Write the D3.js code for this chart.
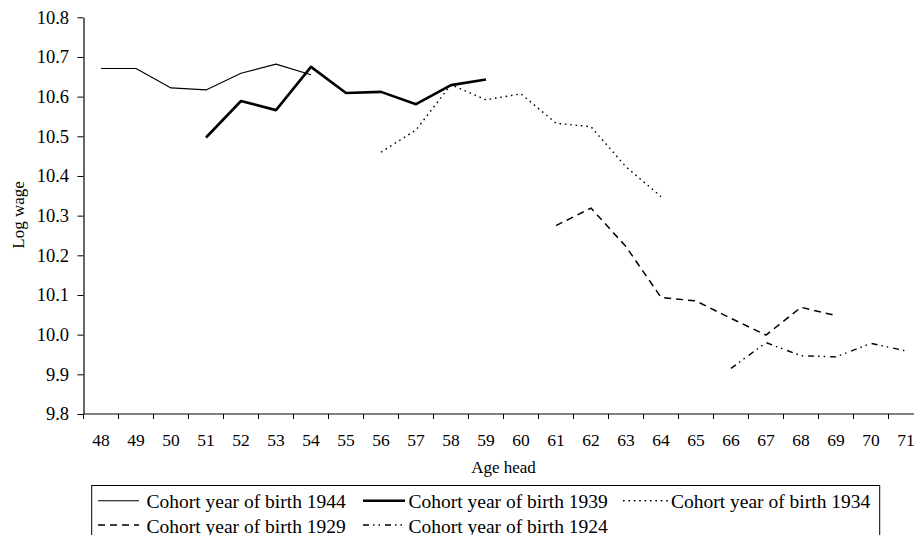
<!DOCTYPE html>
<html>
<head>
<meta charset="utf-8">
<script src="https://cdn.jsdelivr.net/npm/d3@7"></script>
<style>
  html, body { margin: 0; padding: 0; background: #fff; overflow: hidden; }
  svg { display: block; }
</style>
</head>
<body>
<div id="chart"></div>
<script>
// Log wage by age of household head, one line per birth cohort.

const ages = [48, 49, 50, 51, 52, 53, 54, 55, 56, 57, 58, 59,
              60, 61, 62, 63, 64, 65, 66, 67, 68, 69, 70, 71];

const yTicks = [9.8, 9.9, 10.0, 10.1, 10.2, 10.3, 10.4, 10.5, 10.6, 10.7, 10.8];

// values aligned with ages, null where the cohort is not observed
const cohort1944 = [10.671, 10.671, 10.622, 10.617, 10.659, 10.682, 10.655,
                    null, null, null, null, null, null, null, null, null, null,
                    null, null, null, null, null, null, null];
const cohort1939 = [null, null, null, 10.497, 10.589, 10.566, 10.675, 10.609,
                    10.612, 10.581, 10.629, 10.643,
                    null, null, null, null, null, null, null, null, null, null, null, null];
const cohort1934 = [null, null, null, null, null, null, null, null,
                    10.460, 10.516, 10.630, 10.592, 10.607, 10.533, 10.524, 10.423, 10.348,
                    null, null, null, null, null, null, null];
const cohort1929 = [null, null, null, null, null, null, null, null, null, null, null, null, null,
                    10.275, 10.319, 10.222, 10.094, 10.085, 10.041, 9.999, 10.069, 10.048,
                    null, null];
const cohort1924 = [null, null, null, null, null, null, null, null, null, null, null, null,
                    null, null, null, null, null, null,
                    9.915, 9.980, 9.947, 9.944, 9.978, 9.959];

const seriesNames = ["Cohort year of birth 1944", "Cohort year of birth 1939",
                     "Cohort year of birth 1934", "Cohort year of birth 1929",
                     "Cohort year of birth 1924"];
const seriesValues = [cohort1944, cohort1939, cohort1934, cohort1929, cohort1924];

// line styles per series
const STYLES = [
  { width: 1.1, dash: null },
  { width: 2.6, dash: null },
  { width: 1.4, dash: "1.6,3.8" },
  { width: 1.5, dash: "7,5" },
  { width: 1.4, dash: "6,4,1.5,4,1.5,5" },
];

const FONT = "'Liberation Serif', 'Times New Roman', serif";
const W = 914, H = 535;
const plot = { left: 83.5, right: 923.5, top: 17.3, bottom: 414 };

const svg = d3.select("#chart").append("svg")
  .attr("width", W).attr("height", H)
  .attr("viewBox", `0 0 ${W} ${H}`);

const x = d3.scaleBand().domain(ages).range([plot.left, plot.right]).padding(0);
const y = d3.scaleLinear().domain([9.8, 10.8]).range([plot.bottom, plot.top]);

// Y axis
const yAxisG = svg.append("g")
  .attr("transform", `translate(${plot.left},0)`)
  .call(d3.axisLeft(y).tickValues(yTicks).tickFormat(d3.format(".1f"))
    .tickSize(6).tickSizeOuter(0).tickPadding(8.5));
yAxisG.select(".domain").attr("stroke", "#000").attr("stroke-width", 1.2);
yAxisG.selectAll(".tick line").attr("stroke", "#000");
yAxisG.selectAll("text")
  .attr("fill", "#000").attr("font-size", "18.5px").attr("font-family", FONT);

// X axis: labels centred on bands, tick marks on band edges
const xAxisG = svg.append("g")
  .attr("transform", `translate(0,${plot.bottom})`)
  .call(d3.axisBottom(x).tickSize(0).tickSizeOuter(0).tickPadding(20));
xAxisG.select(".domain").remove();
xAxisG.selectAll("text")
  .attr("fill", "#000").attr("font-size", "17.5px").attr("font-family", FONT);

svg.append("line")
  .attr("x1", plot.left).attr("x2", plot.right)
  .attr("y1", plot.bottom).attr("y2", plot.bottom)
  .attr("stroke", "#000").attr("stroke-width", 1.2);

ages.forEach(a => {
  svg.append("line")
    .attr("x1", x(a)).attr("x2", x(a))
    .attr("y1", plot.bottom).attr("y2", plot.bottom + 5)
    .attr("stroke", "#000").attr("stroke-width", 1);
});

// Lines
const line = d3.line()
  .defined(d => d.v != null)
  .x(d => x(d.age) + x.bandwidth() / 2)
  .y(d => y(d.v));

seriesValues.forEach((vals, i) => {
  const pts = ages.map((age, j) => ({ age, v: vals[j] }));
  svg.append("path")
    .datum(pts)
    .attr("fill", "none")
    .attr("stroke", "#000")
    .attr("stroke-width", STYLES[i].width)
    .attr("stroke-dasharray", STYLES[i].dash)
    .attr("stroke-linejoin", "round")
    .attr("d", line);
});

// Axis titles
svg.append("text")
  .attr("transform", `translate(24,215) rotate(-90)`)
  .attr("text-anchor", "middle")
  .attr("font-size", "17px").attr("font-family", FONT)
  .text("Log wage");

svg.append("text")
  .attr("x", (plot.left + plot.right) / 2).attr("y", 473)
  .attr("text-anchor", "middle")
  .attr("font-size", "17px").attr("font-family", FONT)
  .text("Age head");

// Legend
const legend = svg.append("g");
legend.append("rect")
  .attr("x", 91.7).attr("y", 485.5)
  .attr("width", 788).attr("height", 70)
  .attr("fill", "#fff").attr("stroke", "#000").attr("stroke-width", 1);

const colSampleX = [98, 363, 623];
const colSampleW = [41, 42, 45];
const colTextX   = [146.5, 408.5, 671];
const rowY       = [508.3, 532.5];

seriesNames.forEach((name, i) => {
  const col = i % 3, row = Math.floor(i / 3);
  const ly = rowY[row] - 7.5;
  legend.append("line")
    .attr("x1", colSampleX[col]).attr("x2", colSampleX[col] + colSampleW[col])
    .attr("y1", ly).attr("y2", ly)
    .attr("stroke", "#000")
    .attr("stroke-width", STYLES[i].width)
    .attr("stroke-dasharray", STYLES[i].dash);
  legend.append("text")
    .attr("x", colTextX[col]).attr("y", rowY[row])
    .attr("font-size", "19.5px").attr("font-family", FONT)
    .text(name);
});
</script>
</body>
</html>
